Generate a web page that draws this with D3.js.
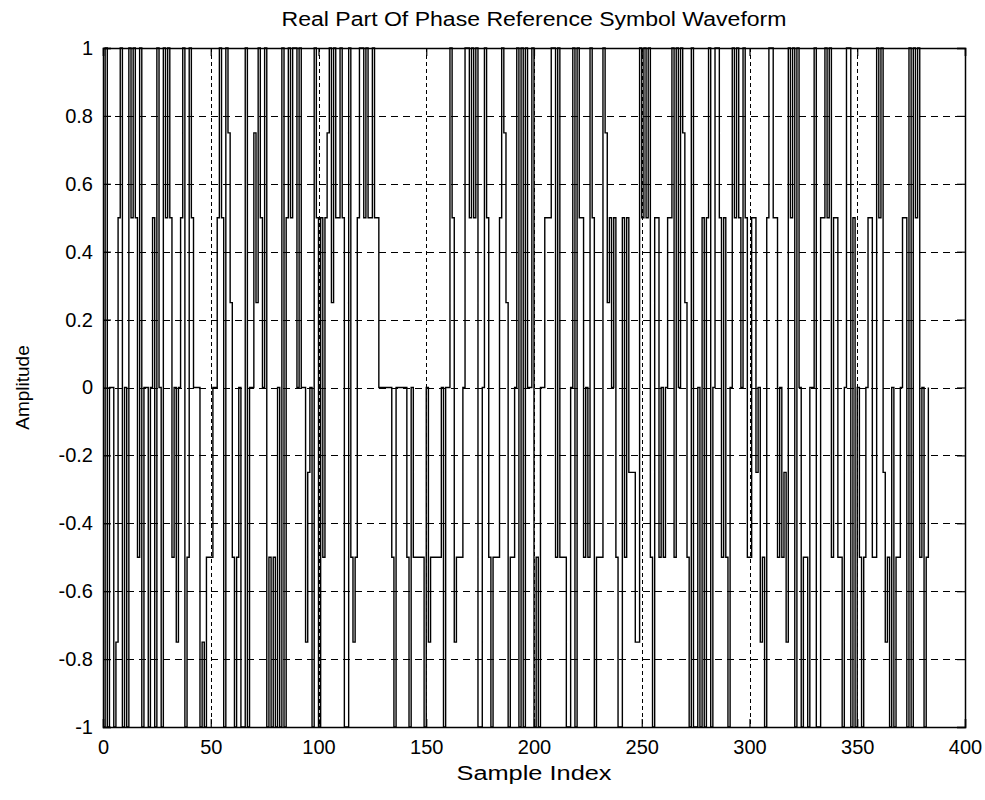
<!DOCTYPE html>
<html>
<head>
<meta charset="utf-8">
<script src="https://cdn.jsdelivr.net/npm/d3@7/dist/d3.min.js"></script>
<style>
  html, body { margin: 0; padding: 0; background: #fff; }
  svg text { font-family: "Liberation Sans", Arial, Helvetica, sans-serif; fill: #000; }
</style>
</head>
<body>
<svg id="chart" width="985" height="800"></svg>
<script>
// Axis ticks
const xTicks = [0, 50, 100, 150, 200, 250, 300, 350, 400];
const yTicks = [-1, -0.8, -0.6, -0.4, -0.2, 0, 0.2, 0.4, 0.6, 0.8, 1];

// Real part of the phase reference symbol, one value per sample (0..383)
const amplitude = [
  -1, 1, -1, 0, 0, -1, -0.75, 0.5, 1, -1,            // 0-9
  0, -1, 1, 0.5, 1, 0.5, -0.5, 1, -1, 0,             // 10-19
  0, -1, 0, 0.5, -1, 1, 0, -1, 1, 0.5,               // 20-29
  1, 0.5, -0.5, 0, -0.75, 0, 0.5, 1, -1, -0.5,       // 30-39
  1, 0.5, 0, 0, 0, -1, -0.75, -1, -0.5, -0.5,        // 40-49
  -0.5, 0, 0, 0.5, 1, 0.5, -1, 1, 0.75, 0.25,        // 50-59
  -0.5, -1, -0.5, 0, -1, -1, 1, -1, 0, 0,            // 60-69
  0.75, 0.25, 1, 0.5, 0, 1, -1, -0.5, -1, -0.5,      // 70-79
  -1, 0, -1, 1, -1, 0.5, 1, 0.5, 1, 1,               // 80-89
  0, 1, 0, 0, -0.75, -0.25, 0, -1, 1, 0.5,           // 90-99
  -1, 0.5, -0.5, 0.5, 0.75, 1, 0.25, 1, 0.5, 0.5,    // 100-109
  1, 0.5, -1, -1, 1, -0.5, -0.75, -0.5, 0.5, 1,      // 110-119
  1, 0.5, 1, 0.5, 0.5, 1, 0.5, 0.5, 0, 0,            // 120-129
  0, 0, 0, 0, -0.5, -1, 0, 0, 0, 0,                  // 130-139
  0, -0.5, -1, 0, -0.5, -0.5, -0.5, -0.5, -0.5, -1,  // 140-149
  0, -0.75, -0.5, -0.5, -0.5, -0.5, -0.5, 0, -1, 0,  // 150-159
  0, 1, 0.5, -0.75, -0.5, -0.5, -0.5, 0, 1, 1,       // 160-169
  0.5, 1, 0.5, 1, -1, -1, 0, 1, 0.5, -0.5,           // 170-179
  -1, -0.5, -0.5, -0.5, 0.5, 1, 0.75, 0.25, -1, -0.5,// 180-189
  -0.5, 0, 1, -1, 1, -1, 1, 0, 0, 1,                 // 190-199
  -1, -0.5, -1, 0, 0, 0.5, 0.5, 0.5, 1, 1,           // 200-209
  -0.5, 1, -0.5, -0.5, -0.5, -1, -1, 0, 1, -1,       // 210-219
  1, 0.5, 0.5, -0.5, 0, -0.5, 1, 0.5, -1, -0.5,      // 220-229
  -0.5, -0.5, 1, 0.75, 0.25, 0.5, 0, 0.5, -0.5, -1,  // 230-239
  -1, 0.5, -0.5, 0.5, -0.25, -0.25, -0.25, -0.75, -0.75, 1, // 240-249
  0.5, 1, 0.5, 1, -0.5, -1, 0.5, 0.5, -0.5, 0,       // 250-259
  -0.5, 0, 0.5, 0.5, 1, -0.5, 1, 0, 1, 0.75,         // 260-269
  0.25, -0.5, -1, 1, -1, -1, 0, -1, 0.5, -1,         // 270-279
  0.5, 1, -1, 0, 1, 1, 0.5, -0.5, 0.5, -0.5,         // 280-289
  -1, 0, 1, 0.5, 1, 0.5, 0, 1, 0.5, -0.5,            // 290-299
  -0.5, 0.5, 0.5, -0.25, 0, -0.75, -0.5, -1, 0.5, 1, // 300-309
  1, 0.5, 0.5, -0.5, 0, -0.5, -0.25, -0.75, 1, 0.5,  // 310-319
  1, -1, 1, 0, -1, -0.5, -0.5, -1, 0, 0,             // 320-329
  1, -1, -1, 0.5, 0.5, 1, 0.5, 1, -0.5, 0.5,         // 330-339
  0.5, -0.5, -0.5, -1, 0, 1, 1, -1, 0.5, -1,         // 340-349
  0, -0.5, -1, -0.5, 0, 0.5, 0.5, -0.5, -0.5, 1,     // 350-359
  0.5, 1, -0.25, -0.75, -0.5, -1, 0, -1, -0.5, -0.5, // 360-369
  0, 0.5, 0.5, -1, 1, -1, 1, 0.5, 1, -0.5,           // 370-379
  0, -1, -0.5, 0                                     // 380-383
];

const W = 985, H = 800;
const plot = { left: 103, right: 965, top: 48, bottom: 727 };
const font = "'Liberation Sans', Arial, Helvetica, sans-serif";

const svg = d3.select("#chart");
svg.append("rect").attr("width", W).attr("height", H).attr("fill", "#fff");

const x = d3.scaleLinear().domain([0, 400]).range([plot.left, plot.right]);
const y = d3.scaleLinear().domain([-1, 1]).range([plot.bottom, plot.top]);

// Dotted grid behind the waveform
const grid = svg.append("g").attr("stroke", "#000").attr("stroke-width", 1)
  .attr("shape-rendering", "crispEdges");
grid.selectAll("line.gx").data(xTicks.slice(1, -1)).join("line")
  .attr("class", "gx").attr("stroke-dasharray", "4,3")
  .attr("x1", d => Math.round(x(d)) + 0.5).attr("x2", d => Math.round(x(d)) + 0.5)
  .attr("y1", plot.top).attr("y2", plot.bottom);
grid.selectAll("line.gy").data(yTicks.slice(1, -1)).join("line")
  .attr("class", "gy").attr("stroke-dasharray", "7,5")
  .attr("y1", d => Math.round(y(d)) + 0.5).attr("y2", d => Math.round(y(d)) + 0.5)
  .attr("x1", plot.left).attr("x2", plot.right);

// Waveform drawn as stairs
const stairs = d3.line()
  .x((d, i) => x(i))
  .y(d => y(d))
  .curve(d3.curveStepAfter);
svg.append("path")
  .datum(amplitude)
  .attr("d", stairs)
  .attr("fill", "none")
  .attr("stroke", "#000")
  .attr("stroke-width", 1.4);

// Axes with inward ticks on all four sides
const tickLen = 8;
const fmt = d => String(d);
const axB = d3.axisBottom(x).tickValues(xTicks).tickSize(-tickLen).tickPadding(tickLen + 5).tickFormat(fmt);
const axT = d3.axisTop(x).tickValues(xTicks).tickSize(-tickLen).tickFormat("");
const axL = d3.axisLeft(y).tickValues(yTicks).tickSize(-tickLen).tickPadding(10).tickFormat(fmt);
const axR = d3.axisRight(y).tickValues(yTicks).tickSize(-tickLen).tickFormat("");

function style(g) {
  g.selectAll(".domain").attr("stroke", "#000").attr("stroke-width", 1.5);
  g.selectAll(".tick line").attr("stroke", "#000").attr("stroke-width", 1.2);
  g.selectAll("text").attr("font-size", 20).attr("font-family", font).attr("fill", "#000");
}
svg.append("g").attr("transform", `translate(0,${plot.bottom})`).call(axB).call(style);
svg.append("g").attr("transform", `translate(0,${plot.top})`).call(axT).call(style);
svg.append("g").attr("transform", `translate(${plot.left},0)`).call(axL).call(style);
svg.append("g").attr("transform", `translate(${plot.right},0)`).call(axR).call(style);

// Titles
svg.append("text").attr("x", (plot.left + plot.right) / 2).attr("y", 26)
  .attr("text-anchor", "middle").attr("font-size", 20)
  .attr("textLength", 505).attr("lengthAdjust", "spacingAndGlyphs")
  .text("Real Part Of Phase Reference Symbol Waveform");
svg.append("text").attr("x", (plot.left + plot.right) / 2).attr("y", 780)
  .attr("text-anchor", "middle").attr("font-size", 20)
  .attr("textLength", 155).attr("lengthAdjust", "spacingAndGlyphs")
  .text("Sample Index");
svg.append("text").attr("transform", `translate(29,${(plot.top + plot.bottom) / 2}) rotate(-90)`)
  .attr("text-anchor", "middle").attr("font-size", 19)
  .text("Amplitude");
</script>
</body>
</html>
